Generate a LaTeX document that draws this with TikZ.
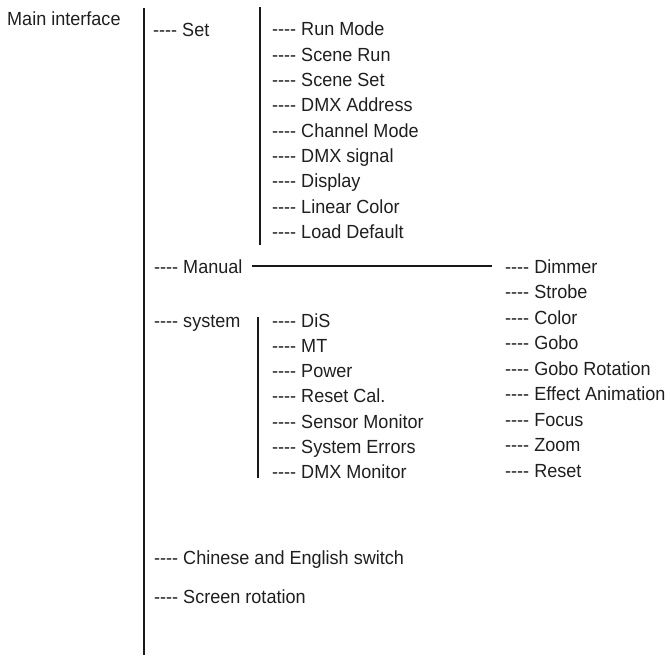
\documentclass[tikz,border=0pt]{standalone}
\usepackage{fontspec}
\setmainfont[FakeStretch=0.95]{Liberation Sans}
\newcommand\dsh{-{}-{}-{}-}
\begin{document}
\begin{tikzpicture}[x=1pt,y=-1pt,
  lbl/.style={anchor=base west,inner sep=0pt,font=\fontsize{19}{22}\selectfont,text=black!88},
  bar/.style={line width=2.4pt,black!90},
  sbar/.style={line width=2pt,black!90}]
\useasboundingbox (0,0) rectangle (671,655);
% main
\node[lbl] (main) at (7,26) {Main interface};
\coordinate (mtop) at (144,8);
\coordinate (mbot) at (144,655);
\draw[bar] (mtop) -- (mbot);
% level 1
\node[lbl] (set) at (153,37) {\dsh\ Set};
\node[lbl] (manual) at (154,273) {\dsh\ Manual};
\node[lbl] (system) at (154,327) {\dsh\ system};
\node[lbl] (chn) at (154,564) {\dsh\ Chinese and English switch};
\node[lbl] (scr) at (154,603) {\dsh\ Screen rotation};
% set submenu
\coordinate (stop) at (260,7);
\coordinate (sbot) at (260,245);
\draw[sbar] (stop) -- (sbot);
\foreach \t [count=\i from 0] in {Run Mode,Scene Run,Scene Set,DMX Address,Channel Mode,DMX signal,Display,Linear Color,Load Default}
  \node[lbl] (s\i) at (272,36+25.3*\i) {\dsh\ \t};
% manual submenu
\foreach \t [count=\i from 0] in {Dimmer,Strobe,Color,Gobo,Gobo Rotation,Effect Animation,Focus,Zoom,Reset}
  \node[lbl] (m\i) at (505,273+25.5*\i) {\dsh\ \t};
\coordinate (ml) at ([xshift=9pt]manual.east |- 0,266);
\coordinate (mr) at ([xshift=-13pt]m0.west |- 0,266);
\draw[sbar] (ml) -- (mr);
% system submenu
\coordinate (ytop) at (258,317);
\coordinate (ybot) at (258,478);
\draw[sbar] (ytop) -- (ybot);
\foreach \t [count=\i from 0] in {DiS,MT,Power,Reset Cal.,Sensor Monitor,System Errors,DMX Monitor}
  \node[lbl] (y\i) at (272,327+25.3*\i) {\dsh\ \t};
\end{tikzpicture}
\end{document}
